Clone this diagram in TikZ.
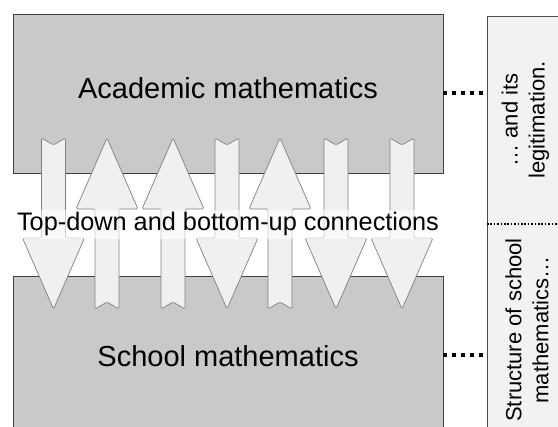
\documentclass[tikz,border=0pt]{standalone}
\usepackage{fontspec}
\setmainfont{Liberation Sans}
\usepackage{xcolor}
\usepackage{tikz}
\usetikzlibrary{positioning,calc}
\definecolor{boxgray}{RGB}{201,201,201}
\definecolor{arrfill}{RGB}{240,240,240}
\definecolor{panelfill}{RGB}{242,242,242}

\begin{document}
\begin{tikzpicture}[
  x=1pt,y=-1pt,
  mbox/.style={draw=black!75,line width=0.9pt,fill=boxgray,minimum width=430,minimum height=159,inner sep=0pt},
  panel/.style={draw=black!70,line width=0.9pt,fill=panelfill,minimum width=100,minimum height=440,inner sep=0pt,anchor=north west},
  arr/.style={draw=black!50,line width=0.7pt,fill=arrfill,rounded corners=1.5pt},
  link/.style={line width=4pt,dash pattern=on 4pt off 5pt},
  divider/.style={line width=1.6pt,dash pattern=on 1.6pt off 1.8pt},
  big/.style={font=\fontsize{29}{34}\selectfont},
  side/.style={font=\fontsize{22}{27}\selectfont,rotate=90,align=center},
  blockarrow/.pic={
    \draw[arr] (-12,-85.5) -- (0,-78.5) -- (12,-85.5) -- (12,14.5) -- (31,14.5)
      -- (0,85.5) -- (-31,14.5) -- (-12,14.5) -- cycle;
  },
]
\useasboundingbox (0,0) rectangle (558,427);
\clip (0,0) rectangle (558,427);
% the two levels
\node[mbox] (acad) at (228,93.5) {};
\node[mbox,minimum height=158] (school) at (228,355) {};
\node[big] (acadtxt) at (228,88.5) {Academic mathematics};
\node[big] (schooltxt) at (228,356) {School mathematics};
% connections between them (0 = down, 180 = up)
\foreach \x/\r in {53.5/0,107/180,173/180,227/0,280/180,336/0,402/0}
  \pic[rotate=\r] at (\x,223.5) {blockarrow};
\node[fill=white,fill opacity=0.6,text opacity=1,inner xsep=2pt,inner ysep=3pt,
  anchor=base,font=\fontsize{25.3}{30}\selectfont] (conn) at (228,231)
  {Top-down and bottom-up connections};
% side panel
\node[panel] (side) at (487,16) {};
\coordinate (mid) at (487,224);
\draw[divider] (mid) -- (mid -| side.east);
\node[side] (legit) at (525.5,120) {… and its\\legitimation.};
\node[side] (struct) at (527,330) {Structure of school\\mathematics…};
\draw[link] (acad.east) -- (acad.east -| side.west);
\draw[link] (school.east) -- (school.east -| side.west);
\end{tikzpicture}
\end{document}
